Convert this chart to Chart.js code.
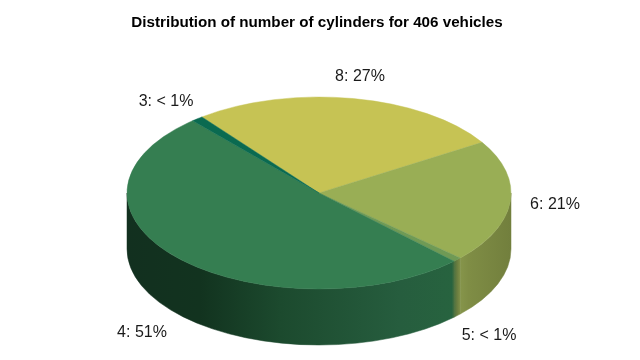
<!DOCTYPE html>
<html lang="en">
  <head>
    <meta charset="UTF-8" />
    <title>Distribution of number of cylinders</title>
    <script src="https://cdn.jsdelivr.net/npm/chart.js"></script>
    <style>
      html, body { margin: 0; padding: 0; background: #fff; }
      #wrap { width: 640px; height: 360px; }
    </style>
  </head>
  <body>
    <div id="wrap"><canvas id="cylindersChart"></canvas></div>
    <script>
      // clockwise as seen on screen, starting at the 3/8 boundary
      const cylinders = ["8", "6", "5", "4", "3"];
      const vehicles = [108, 84, 3, 207, 4];
      const topColors = ["#c6c354", "#99ae55", "#6f9a55", "#357e51", "#0a6a50"];

      // where the flattened pie sits on the page
      const pie = { cx: 319, cy: 193, rx: 192, ry: 96, depth: 56 };

      // label anchors, same order as cylinders
      const labelX = [360, 555, 489, 142, 166];
      const labelY = [77, 205, 336, 333, 102];

      // side wall shading, left to right across the pie
      const wallOffsets = [0, 0.19, 0.4, 0.71, 0.846, 0.854, 0.861, 0.87, 0.89, 1];
      const wallColors = ["#12301f", "#12331f", "#1c4a2e", "#265d3e", "#27633f",
        "#55743f", "#6d7f40", "#85944a", "#7f8d45", "#727f3d"];

      const total = vehicles.reduce((a, b) => a + b, 0);

      function labelText(i) {
        const pct = (vehicles[i] / total) * 100;
        return cylinders[i] + ": " + (pct < 1 ? "< 1%" : Math.round(pct) + "%");
      }

      const pie3d = {
        id: "pie3d",
        beforeDatasetsDraw(chart) {
          const ctx = chart.ctx;
          const arcs = chart.getDatasetMeta(0).data;
          const grad = ctx.createLinearGradient(pie.cx - pie.rx, 0, pie.cx + pie.rx, 0);
          wallOffsets.forEach((o, i) => grad.addColorStop(o, wallColors[i]));

          // only the front half of each slice has a visible wall
          ctx.save();
          ctx.fillStyle = grad;
          ctx.strokeStyle = grad;
          ctx.lineWidth = 0.5;
          arcs.forEach((arc) => {
            for (let k = -1; k <= 1; k++) {
              const a0 = Math.max(arc.startAngle + k * 2 * Math.PI, 0);
              const a1 = Math.min(arc.endAngle + k * 2 * Math.PI, Math.PI);
              if (a1 <= a0) continue;
              ctx.beginPath();
              ctx.ellipse(pie.cx, pie.cy, pie.rx, pie.ry, 0, a0, a1);
              ctx.ellipse(pie.cx, pie.cy + pie.depth, pie.rx, pie.ry, 0, a1, a0, true);
              ctx.closePath();
              ctx.fill();
              ctx.stroke();
            }
          });
          ctx.restore();

          // squash the library's own arcs into the top face
          const r = arcs[0].outerRadius;
          ctx.save();
          ctx.translate(pie.cx, pie.cy);
          ctx.scale(pie.rx / r, pie.ry / r);
          ctx.translate(-arcs[0].x, -arcs[0].y);
        },
        afterDatasetsDraw(chart) {
          const ctx = chart.ctx;
          ctx.restore();

          ctx.save();
          ctx.font = "16px 'Liberation Sans'";
          ctx.fillStyle = "#1a1a1a";
          ctx.textAlign = "center";
          ctx.textBaseline = "middle";
          cylinders.forEach((c, i) => {
            ctx.fillText(labelText(i), labelX[i], labelY[i]);
          });
          ctx.restore();
        },
      };

      new Chart(document.getElementById("cylindersChart").getContext("2d"), {
        type: "pie",
        data: {
          labels: cylinders,
          datasets: [
            {
              data: vehicles,
              backgroundColor: topColors,
              borderColor: topColors,
              borderWidth: 0.5,
            },
          ],
        },
        options: {
          responsive: true,
          maintainAspectRatio: false,
          animation: false,
          rotation: 322.4,
          layout: { padding: { right: 6 } },
          plugins: {
            legend: { display: false },
            tooltip: { enabled: false },
            title: {
              display: true,
              text: "Distribution of number of cylinders for " + total + " vehicles",
              color: "#000",
              font: { family: "'Liberation Sans'", size: 15.2, weight: "bold" },
              padding: { top: 14, bottom: 10 },
            },
          },
        },
        plugins: [pie3d],
      });
    </script>
  </body>
</html>
